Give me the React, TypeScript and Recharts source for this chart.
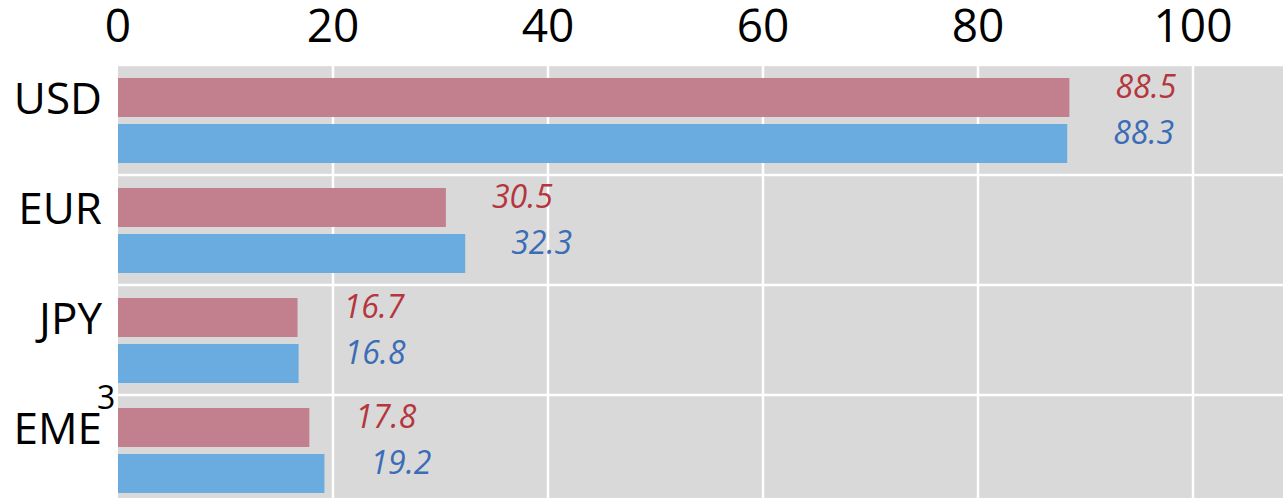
import React from "react";
import { BarChart, Bar, XAxis, YAxis, CartesianGrid, LabelList } from "recharts";

const categories = ["USD", "EUR", "JPY", "EME"];
const footnotes = ["", "", "", "3"];
const seriesA = [88.5, 30.5, 16.7, 17.8];
const seriesB = [88.3, 32.3, 16.8, 19.2];
const xTicks = [0, 20, 40, 60, 80, 100];
const X_MAX = 110;

const data = categories.map((c, i) => ({ cat: c, note: footnotes[i], a: seriesA[i], b: seriesB[i] }));

const FONT = "'Open Sans', 'Noto Sans', sans-serif";

const YTick = (props: any) => {
  const { x, y, payload, index } = props;
  const note = footnotes[index] ?? "";
  return (
    <g>
      <text x={x} y={y - 6} textAnchor="end" fontSize={44} fontFamily={FONT} fill="#000">
        {payload.value}
      </text>
      {note ? (
        <text x={x - 5} y={y - 41} textAnchor="start" fontSize={32} fontFamily={FONT} fill="#000">
          {note}
        </text>
      ) : null}
    </g>
  );
};

const makeLabel = (color: string) => (props: any) => {
  const { x, y, width, height, value } = props;
  return (
    <text
      x={x + width + 46}
      y={y + height / 2}
      textAnchor="start"
      fontSize={32}
      fontStyle="italic"
      fontFamily={FONT}
      fill={color}
    >
      {value}
    </text>
  );
};

export default function App() {
  return (
    <div style={{ position: "absolute", left: 0, top: 0, width: 1283, height: 498, overflow: "hidden", background: "#fff" }}>
      <BarChart
        width={1320}
        height={520}
        data={data}
        layout="vertical"
        margin={{ top: 0, right: 19.5, bottom: 15, left: 0 }}
        barSize={39}
        barGap={7}
      >
        <CartesianGrid
          fill="#d9d9d9"
          stroke="#ffffff"
          strokeWidth={2.5}
          verticalCoordinatesGenerator={({ offset }: any) =>
            xTicks.filter((t) => t > 0).map((t) => offset.left + (t / X_MAX) * offset.width)
          }
          horizontalCoordinatesGenerator={({ offset }: any) =>
            categories.map((_, i) => offset.top + (i * offset.height) / categories.length).concat([offset.top + offset.height])
          }
        />
        <XAxis
          type="number"
          orientation="top"
          domain={[0, X_MAX]}
          ticks={xTicks}
          height={65}
          axisLine={false}
          tickLine={false}
          tickSize={0}
          tickMargin={23}
          tick={{ fontSize: 46, fontFamily: FONT, fill: "#000" }}
          interval={0}
        />
        <YAxis
          type="category"
          dataKey="cat"
          width={118}
          axisLine={false}
          tickLine={false}
          tickSize={0}
          tickMargin={16}
          tick={<YTick />}
          interval={0}
        />
        <Bar dataKey="a" fill="#c27f8e" isAnimationActive={false}>
          <LabelList dataKey="a" content={makeLabel("#b5363c")} />
        </Bar>
        <Bar dataKey="b" fill="#6aace0" isAnimationActive={false}>
          <LabelList dataKey="b" content={makeLabel("#3a6db6")} />
        </Bar>
      </BarChart>
    </div>
  );
}
